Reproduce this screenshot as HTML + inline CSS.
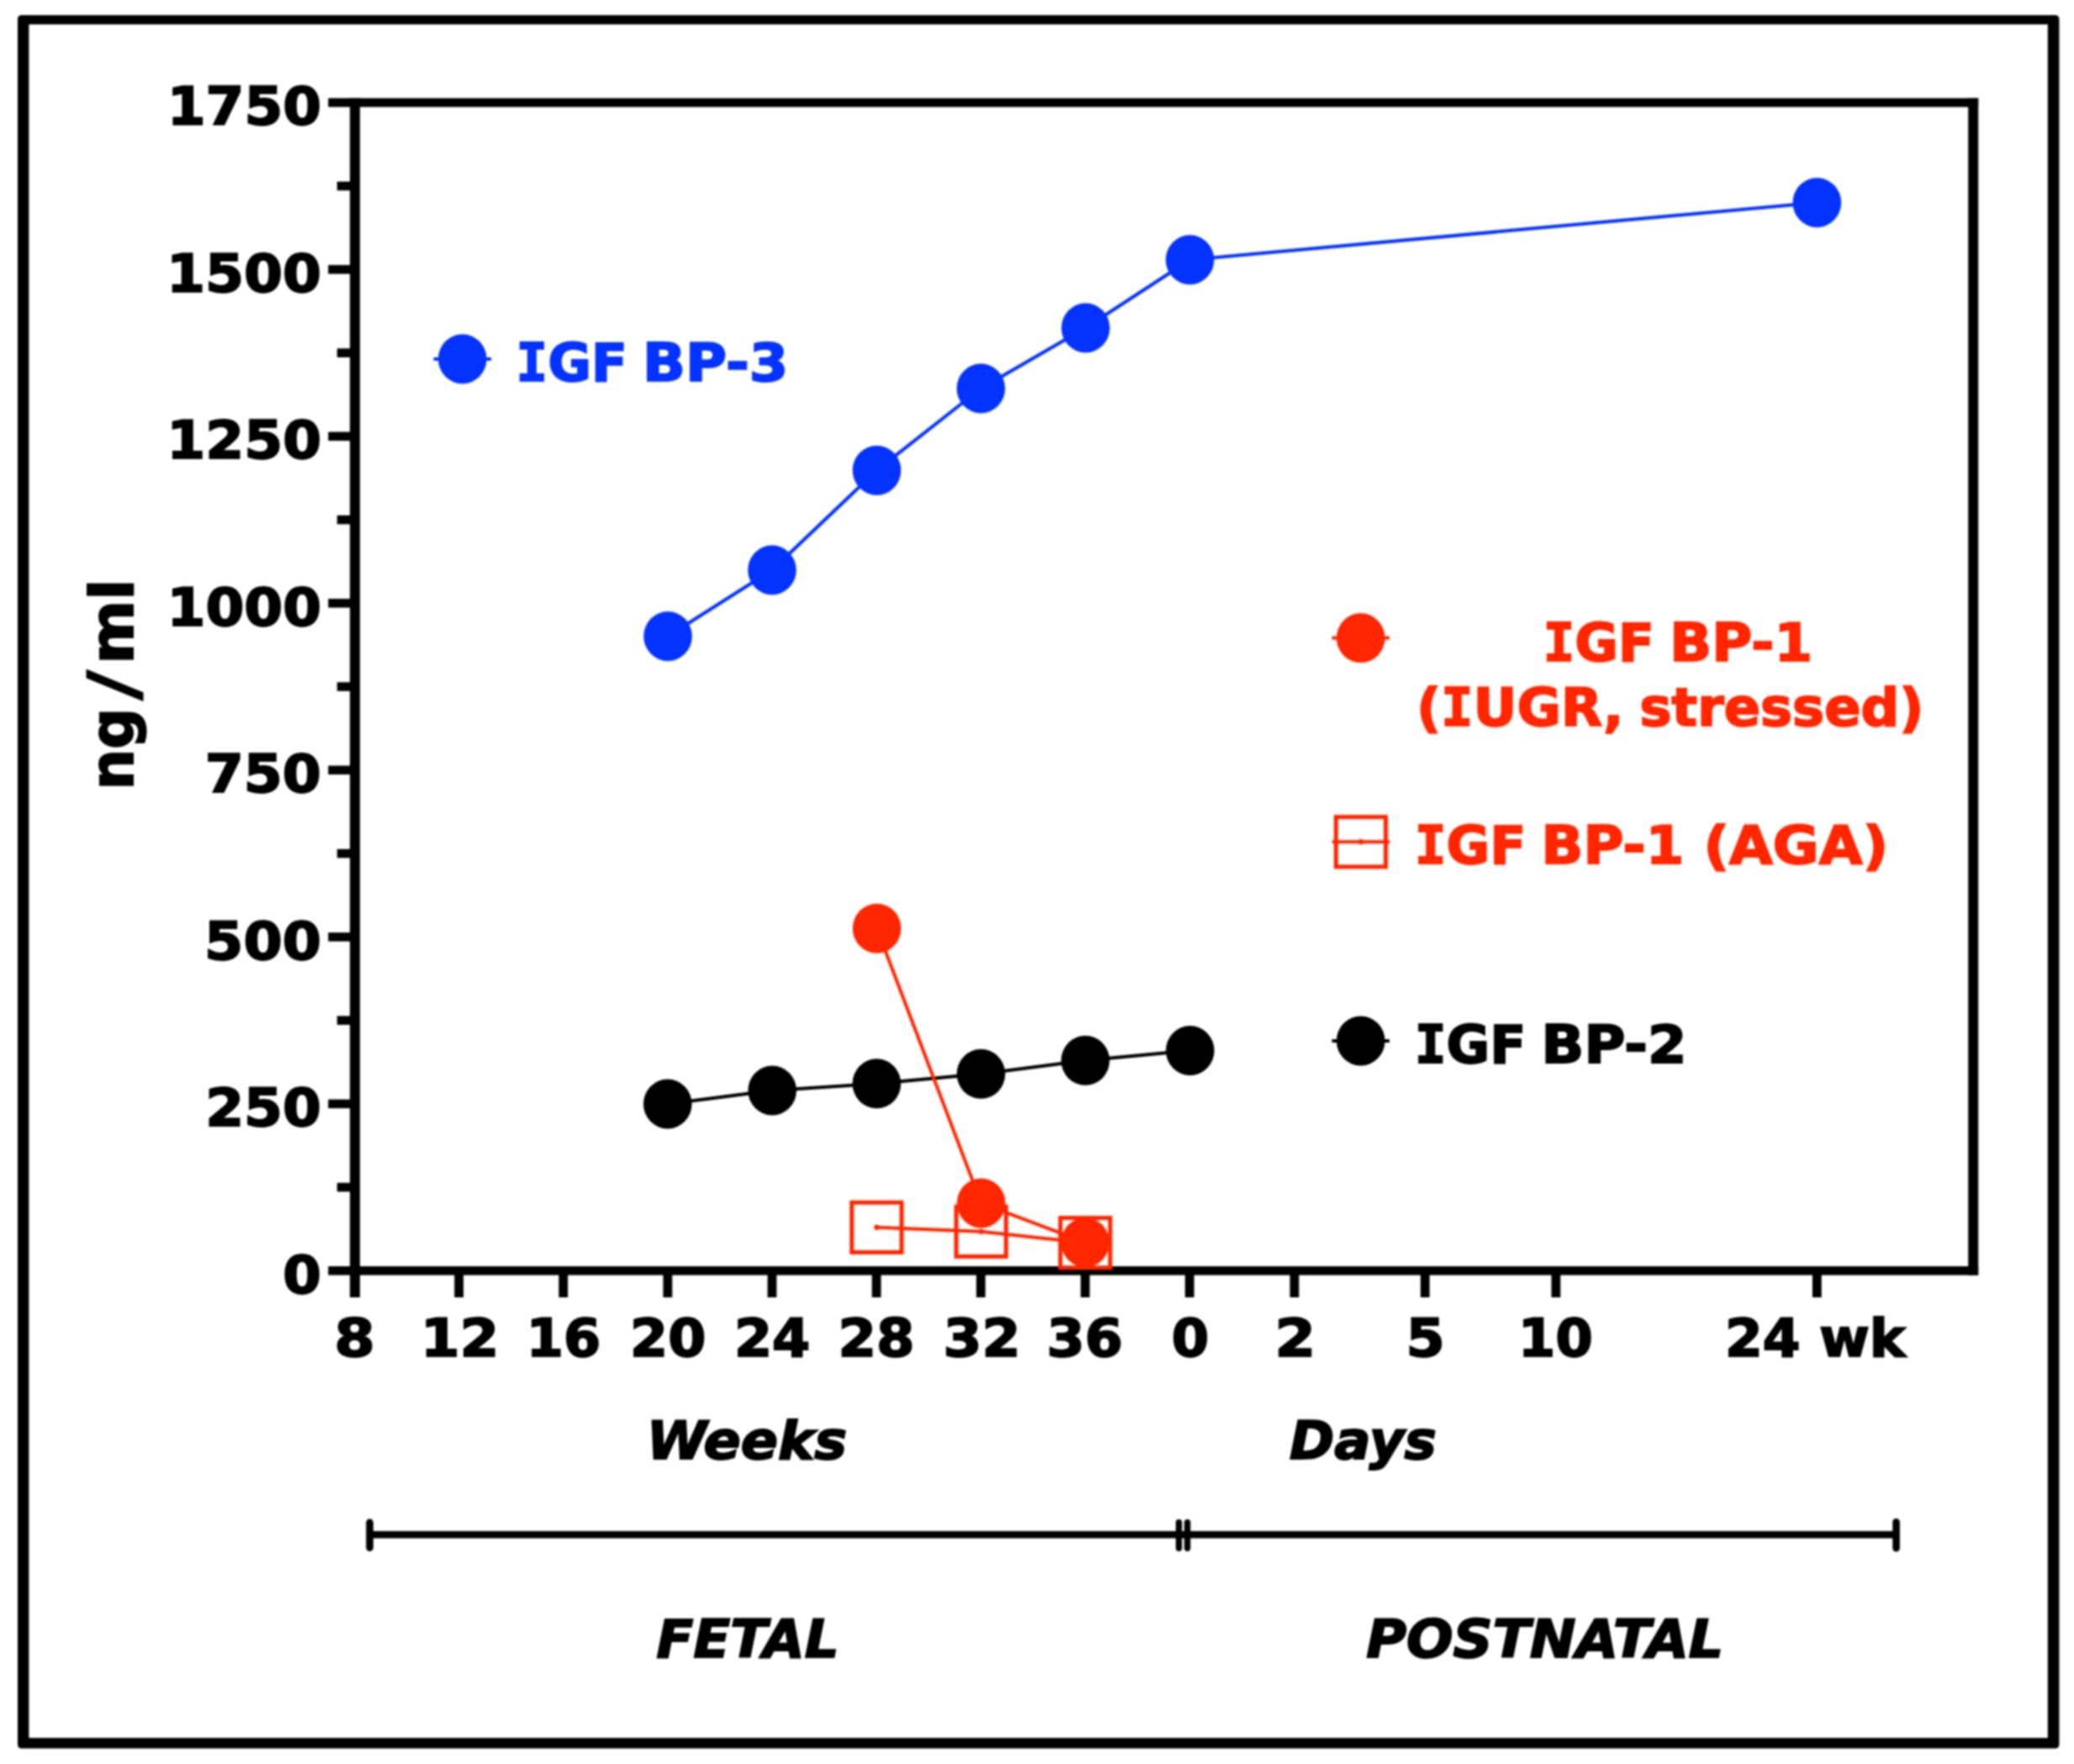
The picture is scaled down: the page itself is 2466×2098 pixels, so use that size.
<!DOCTYPE html>
<html lang="en"><head><meta charset="utf-8"><title>IGF binding proteins – fetal and postnatal serum levels</title>
<style>
html,body{margin:0;padding:0;background:#fff}
body{width:2466px;height:2098px;overflow:hidden}
svg{display:block}
svg text{font-family:"DejaVu Sans", "Liberation Sans", sans-serif;font-weight:bold;font-size:63.5px;stroke-width:2.0px}
.si{font-family:"DejaVu Sans Mono","Liberation Mono",monospace}
</style></head><body>
<svg width="2466" height="2098" viewBox="0 0 2466 2098">
<defs><filter id="soft" x="0" y="0" width="2466" height="2098" filterUnits="userSpaceOnUse" color-interpolation-filters="sRGB"><feGaussianBlur stdDeviation="0.9"/></filter></defs>
<g filter="url(#soft)">
<rect width="2466" height="2098" fill="#fff"/>
<path fill="#000" fill-rule="evenodd" d="M26 18H2443.4Q2448.4 18 2448.4 23V2074.5Q2448.4 2079.5 2443.4 2079.5H26Q21 2079.5 21 2074.5V23Q21 18 26 18ZM34.4 29V2067H2434.8V29Z"/>
<g fill="#000">
<rect x="416.00" y="116.75" width="12.00" height="1426.25"/>
<rect x="2340.20" y="116.75" width="12.00" height="1399.80"/>
<rect x="390.30" y="116.75" width="1961.90" height="10.50"/>
<rect x="390.30" y="1506.05" width="1961.90" height="10.50"/>
<rect x="390.30" y="315.22" width="31.70" height="10.50"/>
<rect x="390.30" y="513.69" width="31.70" height="10.50"/>
<rect x="390.30" y="712.16" width="31.70" height="10.50"/>
<rect x="390.30" y="910.64" width="31.70" height="10.50"/>
<rect x="390.30" y="1109.11" width="31.70" height="10.50"/>
<rect x="390.30" y="1307.58" width="31.70" height="10.50"/>
<rect x="400.80" y="215.99" width="21.20" height="10.50"/>
<rect x="400.80" y="414.46" width="21.20" height="10.50"/>
<rect x="400.80" y="612.93" width="21.20" height="10.50"/>
<rect x="400.80" y="811.40" width="21.20" height="10.50"/>
<rect x="400.80" y="1009.87" width="21.20" height="10.50"/>
<rect x="400.80" y="1208.34" width="21.20" height="10.50"/>
<rect x="400.80" y="1406.81" width="21.20" height="10.50"/>
<rect x="540.30" y="1511.30" width="10.80" height="31.70"/>
<rect x="664.40" y="1511.30" width="10.80" height="31.70"/>
<rect x="788.50" y="1511.30" width="10.80" height="31.70"/>
<rect x="912.60" y="1511.30" width="10.80" height="31.70"/>
<rect x="1036.70" y="1511.30" width="10.80" height="31.70"/>
<rect x="1160.80" y="1511.30" width="10.80" height="31.70"/>
<rect x="1284.90" y="1511.30" width="10.80" height="31.70"/>
<rect x="1409.00" y="1511.30" width="10.80" height="31.70"/>
<rect x="1533.70" y="1511.30" width="10.80" height="31.70"/>
<rect x="1689.00" y="1511.30" width="10.80" height="31.70"/>
<rect x="1844.60" y="1511.30" width="10.80" height="31.70"/>
<rect x="2155.00" y="1511.30" width="10.80" height="31.70"/>
</g>
<g stroke="#000" stroke-linecap="round" fill="none"><path stroke-width="8.5" stroke-linecap="butt" d="M439.6 1825.2H2254.6"/><path stroke-width="8.6" d="M439.6 1810.8V1840.8M2254.6 1810.3V1841.3"/><path stroke-width="7.4" d="M1401.7 1810.6V1841.2M1411.8 1810.6V1841.2"/></g>
<path d="M794.1 756.7L918.0 678.0L1042.5 559.4L1166.3 462.0L1290.8 390.0L1414.8 309.0L2160.4 240.9" fill="none" stroke="#0433ff" stroke-width="4.0" stroke-linejoin="round"/>
<ellipse cx="794.1" cy="756.7" rx="28.8" ry="29.5" fill="#0433ff"/>
<ellipse cx="918.0" cy="678.0" rx="28.8" ry="29.5" fill="#0433ff"/>
<ellipse cx="1042.5" cy="559.4" rx="28.8" ry="29.5" fill="#0433ff"/>
<ellipse cx="1166.3" cy="462.0" rx="28.8" ry="29.5" fill="#0433ff"/>
<ellipse cx="1290.8" cy="390.0" rx="28.8" ry="29.5" fill="#0433ff"/>
<ellipse cx="1414.8" cy="309.0" rx="28.8" ry="29.5" fill="#0433ff"/>
<ellipse cx="2160.4" cy="240.9" rx="28.8" ry="29.5" fill="#0433ff"/>
<path d="M793.8 1313.0L918.2 1297.0L1042.4 1288.8L1166.4 1277.3L1290.5 1261.3L1415.0 1249.5" fill="none" stroke="#000" stroke-width="4.0" stroke-linejoin="round"/>
<ellipse cx="793.8" cy="1313.0" rx="28.8" ry="29.5" fill="#000"/>
<ellipse cx="918.2" cy="1297.0" rx="28.8" ry="29.5" fill="#000"/>
<ellipse cx="1042.4" cy="1288.8" rx="28.8" ry="29.5" fill="#000"/>
<ellipse cx="1166.4" cy="1277.3" rx="28.8" ry="29.5" fill="#000"/>
<ellipse cx="1290.5" cy="1261.3" rx="28.8" ry="29.5" fill="#000"/>
<ellipse cx="1415.0" cy="1249.5" rx="28.8" ry="29.5" fill="#000"/>
<path d="M1042.4 1459.8L1166.6 1464.8L1290.4 1478.1" fill="none" stroke="#ff2600" stroke-width="4.0" stroke-linejoin="round"/>
<rect x="1012.8" y="1430.2" width="59.2" height="59.2" fill="none" stroke="#ff2600" stroke-width="5"/>
<circle cx="1042.4" cy="1459.8" r="3.2" fill="#ff2600"/>
<rect x="1137.0" y="1435.2" width="59.2" height="59.2" fill="none" stroke="#ff2600" stroke-width="5"/>
<circle cx="1166.6" cy="1464.8" r="3.2" fill="#ff2600"/>
<rect x="1260.8" y="1448.5" width="59.2" height="59.2" fill="none" stroke="#ff2600" stroke-width="5"/>
<circle cx="1290.4" cy="1478.1" r="3.2" fill="#ff2600"/>
<path d="M1042.6 1104.2L1166.6 1430.9L1290.4 1477.7" fill="none" stroke="#ff2600" stroke-width="4.0" stroke-linejoin="round"/>
<ellipse cx="1042.6" cy="1104.2" rx="28.8" ry="29.5" fill="#ff2600"/>
<ellipse cx="1166.6" cy="1430.9" rx="28.8" ry="29.5" fill="#ff2600"/>
<ellipse cx="1290.4" cy="1477.7" rx="28.8" ry="29.5" fill="#ff2600"/>
<path d="M515.6 426.9H584.0" stroke="#0433ff" stroke-width="4.0" fill="none"/>
<ellipse cx="549.8" cy="426.9" rx="28.8" ry="29.5" fill="#0433ff"/>
<path d="M1583.7 758.8H1652.1" stroke="#ff2600" stroke-width="4.0" fill="none"/>
<ellipse cx="1617.9" cy="758.8" rx="28.8" ry="29.5" fill="#ff2600"/>
<path d="M1583.7 1237.9H1652.1" stroke="#000" stroke-width="4.0" fill="none"/>
<ellipse cx="1617.9" cy="1237.9" rx="28.8" ry="29.5" fill="#000"/>
<path d="M1583.9 1001.3H1652.3" stroke="#ff2600" stroke-width="4.0" fill="none"/>
<rect x="1588.5" y="971.7" width="59.2" height="59.2" fill="none" stroke="#ff2600" stroke-width="5"/>
<circle cx="1618.1" cy="1001.3" r="3.2" fill="#ff2600"/>
<text transform="translate(198.78 148.30) scale(1.0374 0.9900) " fill="#000" stroke="#000">1750</text>
<text transform="translate(198.05 346.77) scale(1.0415 0.9900) " fill="#000" stroke="#000">1500</text>
<text transform="translate(198.26 545.24) scale(1.0404 0.9900) " fill="#000" stroke="#000">1250</text>
<text transform="translate(198.57 743.71) scale(1.0386 0.9900) " fill="#000" stroke="#000">1000</text>
<text transform="translate(243.65 942.19) scale(1.0433 0.9900) " fill="#000" stroke="#000">750</text>
<text transform="translate(243.11 1140.66) scale(1.0474 0.9900) " fill="#000" stroke="#000">500</text>
<text transform="translate(244.14 1339.13) scale(1.0395 0.9900) " fill="#000" stroke="#000">250</text>
<text transform="translate(336.33 1537.60) scale(1.0350 0.9900) " fill="#000" stroke="#000">0</text>
<text transform="translate(397.42 1613.00) scale(1.0947 0.9900) " fill="#000" stroke="#000">8</text>
<text transform="translate(500.05 1613.00) scale(1.0577 0.9900) " fill="#000" stroke="#000">12</text>
<text transform="translate(625.68 1613.00) scale(1.0037 0.9900) " fill="#000" stroke="#000">16</text>
<text transform="translate(749.11 1613.00) scale(1.0230 0.9900) " fill="#000" stroke="#000">20</text>
<text transform="translate(872.91 1613.00) scale(1.0230 0.9900) " fill="#000" stroke="#000">24</text>
<text transform="translate(996.58 1613.00) scale(1.0294 0.9900) " fill="#000" stroke="#000">28</text>
<text transform="translate(1121.45 1613.00) scale(1.0422 0.9900) " fill="#000" stroke="#000">32</text>
<text transform="translate(1244.51 1613.00) scale(1.0267 0.9900) " fill="#000" stroke="#000">36</text>
<text transform="translate(1392.99 1613.00) scale(1.0050 0.9900) " fill="#000" stroke="#000">0</text>
<text transform="translate(1515.79 1613.00) scale(1.1014 0.9900) " fill="#000" stroke="#000">2</text>
<text transform="translate(1671.71 1613.00) scale(1.0466 0.9900) " fill="#000" stroke="#000">5</text>
<text transform="translate(1804.96 1613.00) scale(1.0062 0.9900) " fill="#000" stroke="#000">10</text>
<text transform="translate(2050.93 1613.00) scale(1.0166 0.9900) " fill="#000" stroke="#000">24 wk</text>
<text transform="translate(768.74 1735.20) scale(1.0271 0.9900) " fill="#000" stroke="#000" font-style="italic">Weeks</text>
<text transform="translate(1533.30 1735.20) scale(1.0117 0.9900) " fill="#000" stroke="#000" font-style="italic">Days</text>
<text transform="translate(780.60 1971.00) scale(1.0109 0.9900) " fill="#000" stroke="#000" font-style="italic">FETAL</text>
<text transform="translate(1624.40 1971.00) scale(1.0275 0.9900) " fill="#000" stroke="#000" font-style="italic">POSTNATAL</text>
<text transform="translate(613.54 453.40) scale(0.9904 0.9900) " fill="#0433ff" stroke="#0433ff"><tspan class="si">I</tspan>GF</text>
<text transform="translate(764.03 453.40) scale(1.0542 0.9900) " fill="#0433ff" stroke="#0433ff">BP-3</text>
<text transform="translate(1834.64 785.80) scale(0.9904 0.9900) " fill="#ff2600" stroke="#ff2600"><tspan class="si">I</tspan>GF</text>
<text transform="translate(1985.23 785.80) scale(1.0340 0.9900) " fill="#ff2600" stroke="#ff2600">BP-1</text>
<text transform="translate(1684.18 862.80) scale(1.0055 0.9900) " fill="#ff2600" stroke="#ff2600">(<tspan class="si">I</tspan>UGR,</text>
<text transform="translate(1949.48 862.80) scale(1.0076 0.9900) " fill="#ff2600" stroke="#ff2600">stressed)</text>
<text transform="translate(1681.94 1026.60) scale(0.9904 0.9900) " fill="#ff2600" stroke="#ff2600"><tspan class="si">I</tspan>GF</text>
<text transform="translate(1832.53 1026.60) scale(1.0340 0.9900) " fill="#ff2600" stroke="#ff2600">BP-1</text>
<text transform="translate(2025.45 1026.60) scale(1.0546 0.9900) " fill="#ff2600" stroke="#ff2600">(AGA)</text>
<text transform="translate(1681.94 1263.80) scale(0.9904 0.9900) " fill="#000" stroke="#000"><tspan class="si">I</tspan>GF</text>
<text transform="translate(1832.43 1263.80) scale(1.0542 0.9900) " fill="#000" stroke="#000">BP-2</text>
<text transform="translate(159.20 934.70) rotate(-90) translate(-4.71 -0.80) scale(0.9422 0.9900) " fill="#000" stroke="#000" style="font-size:72.5px">ng</text>
<text transform="translate(159.20 934.70) rotate(-90) translate(102.76 2.90) scale(0.9846 1.0000) skewX(-5.9) scale(1.1 1.104)" fill="#000" stroke="#000" style="font-size:72.5px">/</text>
<text transform="translate(159.20 934.70) rotate(-90) translate(144.87 -0.80) scale(1.0066 0.9900) " fill="#000" stroke="#000" style="font-size:72.5px">ml</text>
</g>
</svg>
</body></html>
